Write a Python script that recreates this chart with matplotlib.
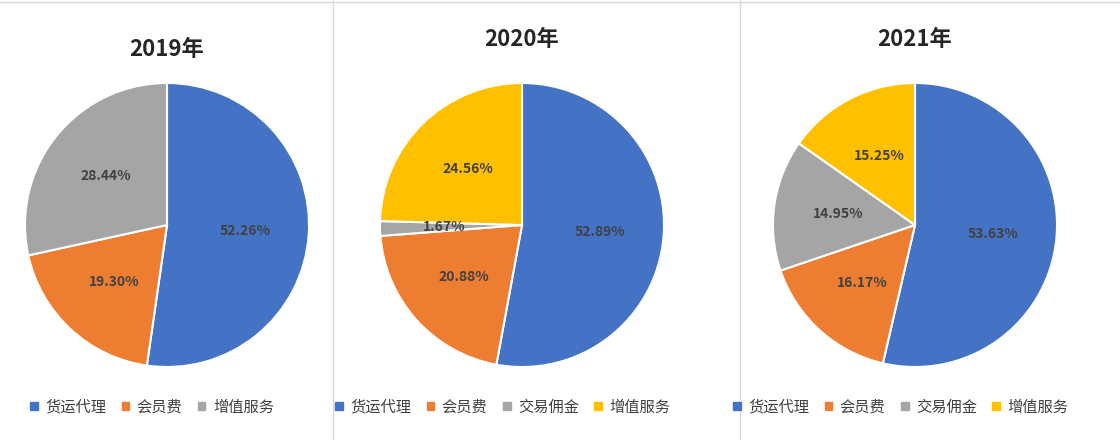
import matplotlib.pyplot as plt
from matplotlib.patches import Patch
from matplotlib.lines import Line2D

plt.rcParams['font.family'] = ['Noto Sans CJK SC', 'DejaVu Sans']

years = ['2019年', '2020年', '2021年']
labels_2019 = ['货运代理', '会员费', '增值服务']
values_2019 = [52.27, 19.30, 28.44]
labels_2020 = ['货运代理', '会员费', '交易佣金', '增值服务']
values_2020 = [52.89, 20.88, 1.67, 24.56]
labels_2021 = ['货运代理', '会员费', '交易佣金', '增值服务']
values_2021 = [53.64, 16.17, 14.95, 15.25]

color_map = {'货运代理': '#4472C4', '会员费': '#ED7D31', '交易佣金': '#A5A5A5', '增值服务': '#FFC000'}
color_2019 = ['#4472C4', '#ED7D31', '#A5A5A5']

fig = plt.figure(figsize=(11.2, 4.4), dpi=100)
W, H = 1120, 440

panels = [
    (years[0], labels_2019, values_2019, 167, 50, color_2019),
    (years[1], labels_2020, values_2020, 522, 40, None),
    (years[2], labels_2021, values_2021, 915, 40, None),
]
r = 142
cy = 225
for title, labs, vals, cx, ty, cols in panels:
    ax = fig.add_axes([(cx - r) / W, (H - cy - r) / H, 2 * r / W, 2 * r / H])
    if cols is None:
        cols = [color_map[l] for l in labs]
    ax.pie(vals, colors=cols, startangle=90, counterclock=False,
           autopct='%.2f%%', pctdistance=0.55,
           wedgeprops=dict(edgecolor='white', linewidth=1.5),
           textprops=dict(color='#404040', fontsize=10, fontweight='bold'))
    ax.set_xlim(-1, 1)
    ax.set_ylim(-1, 1)
    ax.set_aspect('equal')
    fig.text(cx / W, 1 - ty / H, title, ha='center', va='center',
             fontsize=16, fontweight='bold', color='#262626')

# legends
legend_rows = [(labels_2019, color_2019, 30), (labels_2020, [color_map[l] for l in labels_2020], 335),
               (labels_2021, [color_map[l] for l in labels_2021], 733)]
for labs, cols, x0 in legend_rows:
    handles = [Patch(color=c) for c in cols]
    leg = fig.legend(handles, labs, loc='center left', bbox_to_anchor=(x0 / W, 1 - 407 / H),
                     ncol=len(labs), frameon=False, fontsize=11, handlelength=0.5, handleheight=0.5,
                     columnspacing=1.0, handletextpad=0.5, borderaxespad=0, borderpad=0)
    for t in leg.get_texts():
        t.set_color('#404040')

# separators
for x in [333, 740]:
    fig.add_artist(Line2D([x / W, x / W], [0, 1], color='#D9D9D9', lw=1))
fig.add_artist(Line2D([0, 1], [1 - 2 / H, 1 - 2 / H], color='#D9D9D9', lw=1))

fig.savefig('out.png', dpi=100)
